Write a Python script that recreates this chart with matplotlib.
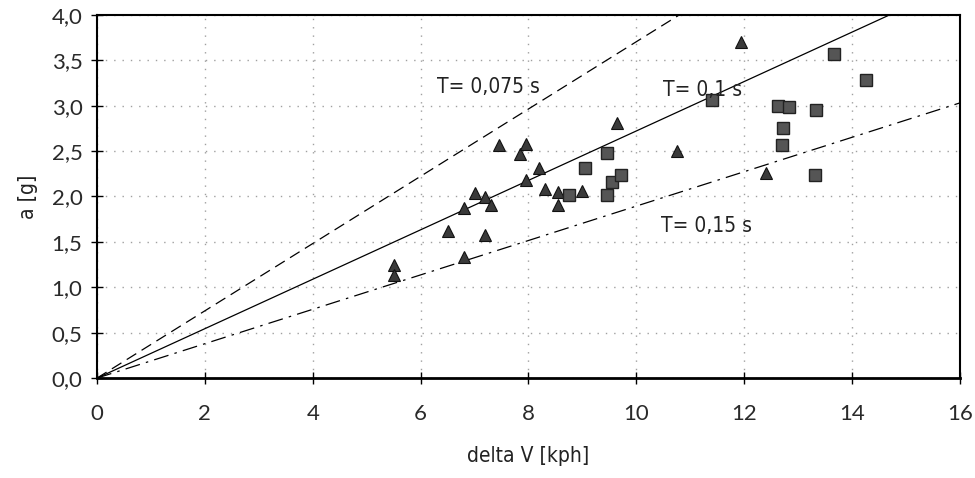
import matplotlib
matplotlib.use("Agg")
import matplotlib.pyplot as plt

# triangle series (delta V [kph], a [g])
tri_dv = [5.5, 5.5, 6.5, 6.8, 6.8, 7.0, 7.2, 7.3, 7.2, 7.45, 7.85, 7.95, 7.95,
          8.2, 8.3, 8.55, 8.55, 9.0, 9.65, 10.75, 12.4, 11.95]
tri_a = [1.25, 1.14, 1.62, 1.33, 1.87, 2.04, 1.99, 1.91, 1.58, 2.57, 2.47, 2.58, 2.18,
         2.31, 2.08, 2.05, 1.91, 2.06, 2.81, 2.50, 2.26, 3.70]

# square series
sq_dv = [8.75, 9.05, 9.45, 9.45, 9.55, 9.72, 11.4, 12.63, 12.84, 13.33, 12.72, 12.71,
         13.31, 13.66, 14.25]
sq_a = [2.02, 2.31, 2.48, 2.02, 2.16, 2.24, 3.06, 3.00, 2.98, 2.95, 2.75, 2.57,
        2.24, 3.57, 3.28]

# reference lines, from origin to end point
line_names = ["T= 0,075 s", "T= 0,1 s", "T= 0,15 s"]
line_end_dv = [10.8, 14.7, 16.0]
line_end_a = [4.0, 4.0, 3.03]
label_pos = [(6.3, 3.2), (10.5, 3.17), (10.45, 1.68)]

xticks = list(range(0, 17, 2))
yticks = [i * 0.5 for i in range(9)]

label_font = dict(family="DejaVu Sans", stretch="condensed", color="#222222")

fig = plt.figure(figsize=(9.75, 4.78), dpi=100)
ax = fig.add_axes([0.0995, 0.209, 0.885, 0.76])

styles = [dict(ls=(0, (9, 5)), lw=0.9), dict(ls="-", lw=0.9), dict(ls=(0, (12, 5, 2, 5)), lw=0.9)]
for name, ex, ey, st, pos in zip(line_names, line_end_dv, line_end_a, styles, label_pos):
    ax.plot([0, ex], [0, ey], color="black", **st)
    ax.text(pos[0], pos[1], name, fontsize=15, va="center", ha="left", **label_font)

ax.plot(tri_dv, tri_a, "^", ms=9, color="#3a3a3a", mec="#111111", mew=0.8, clip_on=False)
ax.plot(sq_dv, sq_a, "s", ms=8.5, color="#555555", mec="#222222", mew=1.0, clip_on=False)

ax.set_xlim(0, 16)
ax.set_ylim(0, 4)
ax.set_xticks(xticks)
ax.set_yticks(yticks)
ax.set_xticklabels([str(t) for t in xticks])
ax.set_yticklabels([f"{t:.1f}".replace(".", ",") for t in yticks])

ax.grid(True, color="#a0a0a0", ls=(0, (1, 5)), lw=1.0)
ax.tick_params(direction="inout", length=9, width=1, labelsize=16, colors="black")
ax.tick_params(axis="x", pad=14)
ax.tick_params(axis="y", pad=6)
for lbl in ax.get_xticklabels() + ax.get_yticklabels():
    lbl.set_family("Lato")
    lbl.set_color("#2a2a2a")

for side in ["left", "bottom", "top", "right"]:
    ax.spines[side].set_linewidth(1.5)
    ax.spines[side].set_color("black")
ax.spines["bottom"].set_linewidth(2)

ax.set_xlabel("delta V [kph]", fontsize=15, labelpad=16, **label_font)
ax.set_ylabel("a [g]", fontsize=15, labelpad=10, **label_font)

fig.savefig("out.png", dpi=100)
